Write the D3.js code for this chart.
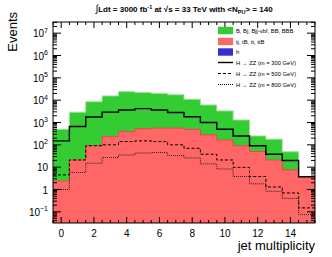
<!DOCTYPE html>
<html><head><meta charset="utf-8">
<script src="https://cdn.jsdelivr.net/npm/d3@7"></script>
<style>
body{margin:0;background:#fff;}
text{font-family:"Liberation Sans",Arial,Helvetica,sans-serif;}
</style></head>
<body><svg id="c" width="332" height="257"></svg>
<script>
// jet multiplicity bins
const jetBins = [0,1,2,3,4,5,6,7,8,9,10,11,12,13,14,15];
// background stack components (events)
const ttValues = [2.4,21,93,235,390,520,560,560,500,280,165,91,50,21,7.6,3.8];
const hValues  = [0,0,0,0,0,0,0,0,0,0,0,0,0,0,0,0];
const bValues  = [498,2879,8407,15265,23610,21480,19440,16940,10500,5820,3135,1209,200,159,41.4,0];
// signal H -> ZZ
const sig300 = [150,660,1750,2900,3650,4200,3650,2800,1800,1000,500,250,91,38,20,3.7];
const sig500 = [4.5,21,91,100,140,150,140,100,70,38,21,9.8,3.8,1.3,0.7,0.15];
const sig800 = [1.0,5.8,15,27,35,43,45,33,26,14,8.3,3.8,1.8,0.83,0.4,0.075];
const xTickLabels = [0,2,4,6,8,10,12,14];
const yTickExps = [-1,0,1,2,3,4,5,6,7];
const legendLabels = ["B, Bj, Bjj-vbf, BB, BBB","tj, tB, tt, ttB","h",
  "H \u2192 ZZ (m = 300 GeV)","H \u2192 ZZ (m = 500 GeV)","H \u2192 ZZ (m = 800 GeV)"];

const svg = d3.select("#c");
const L=53,R=315,T=22,B=223;
const x = d3.scaleLinear().domain([-0.5,15.5]).range([L,R]);
const y = d3.scaleLog().domain([Math.pow(10,-1.5),Math.pow(10,7.5)]).range([B,T]);

svg.append("clipPath").attr("id","pc").append("rect").attr("x",L).attr("y",T).attr("width",R-L).attr("height",B-T);
const g = svg.append("g").attr("clip-path","url(#pc)");

const rows = jetBins.map((b,i)=>({bin:b,tt:ttValues[i],h:hValues[i],B:bValues[i]}));
const stack = d3.stack().keys(["tt","h","B"])(rows);
const yMin = y.domain()[0];

function stepArea(layerTop){
  // histogram area from bottom to layer top
  let p = "M"+x(-0.5)+","+B;
  jetBins.forEach((b,i)=>{
    const v = Math.max(layerTop[i],yMin*0.5);
    p += "L"+x(b-0.5)+","+y(v)+"L"+x(b+0.5)+","+y(v);
  });
  p += "L"+x(15.5)+","+B+"Z";
  return p;
}
function stepLine(vals){
  let p="";
  jetBins.forEach((b,i)=>{
    const v = Math.max(vals[i],yMin*0.5);
    p += (i===0?"M":"L")+x(b-0.5)+","+y(v)+"L"+x(b+0.5)+","+y(v);
  });
  return p;
}
const totalTop = stack[2].map(d=>d[1]);
const hTop = stack[1].map(d=>d[1]);
const ttTop = stack[0].map(d=>d[1]);
g.append("path").attr("d",stepArea(totalTop)).attr("fill","#33cc33").attr("stroke","#9ee09e").attr("stroke-width",1);
g.append("path").attr("d",stepArea(hTop)).attr("fill","#3333cc").attr("stroke","none");
g.append("path").attr("d",stepArea(ttTop)).attr("fill","#ff6666").attr("stroke","#f04848").attr("stroke-width",1);

g.append("path").attr("d",stepLine(sig300)).attr("fill","none").attr("stroke","#000").attr("stroke-width",1.4);
g.append("path").attr("d",stepLine(sig500)).attr("fill","none").attr("stroke","#000").attr("stroke-width",1).attr("stroke-dasharray","3,2");
g.append("path").attr("d",stepLine(sig800)).attr("fill","none").attr("stroke","#222").attr("stroke-width",1).attr("stroke-dasharray","1,1");

// frame
svg.append("rect").attr("x",L).attr("y",T).attr("width",R-L).attr("height",B-T).attr("fill","none").attr("stroke","#000").attr("stroke-width",1);

// x ticks (bottom and top)
const xt = svg.append("g");
for(let v=-0.5; v<=15.5; v+=0.5){
  const major = Math.abs(v%2)<1e-9;
  const len = major?6:3;
  xt.append("line").attr("x1",x(v)).attr("x2",x(v)).attr("y1",B).attr("y2",B-len).attr("stroke","#000");
  xt.append("line").attr("x1",x(v)).attr("x2",x(v)).attr("y1",T).attr("y2",T+len).attr("stroke","#000");
}
xTickLabels.forEach(v=>{
  svg.append("text").attr("x",x(v)).attr("y",237).attr("text-anchor","middle").attr("font-size",10).attr("fill","#000").text(v);
});

// y ticks (log)
const yt = svg.append("g");
for(let e=-2;e<=7;e++){
  for(let m=1;m<=9;m++){
    const v=m*Math.pow(10,e);
    if(v<y.domain()[0]||v>y.domain()[1]) continue;
    const len = m===1?8:4;
    yt.append("line").attr("x1",L).attr("x2",L+len).attr("y1",y(v)).attr("y2",y(v)).attr("stroke","#000");
    yt.append("line").attr("x1",R).attr("x2",R-len).attr("y1",y(v)).attr("y2",y(v)).attr("stroke","#000");
  }
}
yTickExps.forEach(e=>{
  const t = svg.append("text").attr("x",48).attr("y",y(Math.pow(10,e))+4).attr("text-anchor","end").attr("font-size",10).attr("fill","#000");
  if(e===0){ t.text("1"); }
  else if(e===1){ t.text("10"); }
  else { t.text("10"); t.append("tspan").attr("dy",-4.5).attr("font-size",7).text(String(e).replace("-","\u2212")); }
});

// axis titles
svg.append("text").attr("transform","translate(17,12) rotate(-90)").attr("text-anchor","end").attr("font-size",13).attr("fill","#000").text("Events");
svg.append("text").attr("x",315).attr("y",250).attr("text-anchor","end").attr("font-size",13).attr("fill","#000").text("jet multiplicity");

// header
const hd = svg.append("text").attr("x",184).attr("y",12).attr("text-anchor","middle").attr("font-size",8).attr("font-weight","bold").attr("fill","#000");
hd.append("tspan").attr("font-weight","normal").attr("font-size",10).text("\u222B");
hd.append("tspan").text("Ldt = 3000 fb");
hd.append("tspan").attr("dy",-3).attr("font-size",5.5).text("-1");
hd.append("tspan").attr("dy",3).text(" at \u221As = 33 TeV with <N");
hd.append("tspan").attr("dy",2).attr("font-size",5.5).text("PU");
hd.append("tspan").attr("dy",-2).text("> = 140");

// legend
const lg = svg.append("g");
const ly = [30.5,41.5,52,62.5,73.5,84.5];
const boxFill = ["#33cc33","#ff6666","#3333cc"];
for(let i=0;i<3;i++){
  lg.append("rect").attr("x",218).attr("y",ly[i]-3.7).attr("width",15).attr("height",7.4).attr("fill",boxFill[i]);
}
const dashes = [null,"3,2","1,1"];
for(let i=0;i<3;i++){
  lg.append("line").attr("x1",218).attr("x2",233).attr("y1",ly[3+i]).attr("y2",ly[3+i]).attr("stroke","#000").attr("stroke-width",i===0?1.4:1).attr("stroke-dasharray",dashes[i]);
}
legendLabels.forEach((s,i)=>{
  lg.append("text").attr("x",236).attr("y",ly[i]+2).attr("font-size",5.8).attr("fill","#000").text(s);
});
</script></body></html>
